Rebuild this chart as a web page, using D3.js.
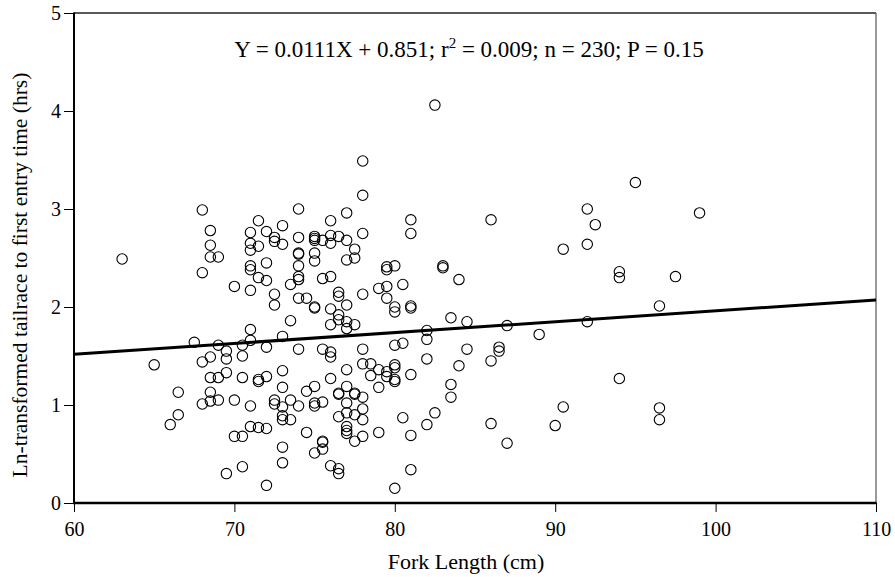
<!DOCTYPE html>
<html>
<head>
<meta charset="utf-8">
<script src="https://cdn.jsdelivr.net/npm/d3@7"></script>
<style>
body { margin:0; background:#fff; }
svg { font-family:"Liberation Serif","Times New Roman",serif; }
.axis path { display:none; }
.axis line { stroke:#000; stroke-width:1; }
</style>
</head>
<body>
<svg id="myGraph" width="895" height="577"></svg>
<script>
// fork length (cm), ln-transformed time (hrs)
var fish = [
 [63.0,2.49],[65.0,1.41],[66.0,0.80],[66.5,1.13],[66.5,0.90],[67.5,1.64],
 [68.0,2.99],[68.0,2.35],[68.0,1.44],[68.0,1.01],[68.5,2.78],[68.5,2.63],
 [68.5,2.51],[69.0,2.51],[68.5,1.49],[68.5,1.28],[68.5,1.13],[68.5,1.04],
 [69.0,1.61],[69.0,1.28],[69.0,1.05],[69.5,1.55],[69.5,1.47],[69.5,1.33],
 [69.5,0.30],[70.0,2.21],[70.0,1.05],[70.0,0.68],[70.5,1.61],[70.5,1.50],
 [70.5,1.28],[70.5,0.68],[70.5,0.37],[71.0,2.76],[71.0,2.65],[71.0,2.58],
 [71.0,2.42],[71.0,2.38],[71.0,2.17],[71.0,1.77],[71.0,1.66],[71.0,0.99],
 [71.0,0.78],[71.5,2.88],[71.5,2.62],[71.5,2.30],[72.0,2.77],[72.0,2.45],
 [72.0,2.27],[72.5,2.71],[72.5,2.67],[72.5,2.13],[72.5,2.02],[73.0,2.83],
 [73.0,2.64],[73.5,2.23],[74.0,3.00],[74.0,2.71],[74.0,2.55],[74.0,2.54],
 [74.0,2.42],[74.0,2.31],[74.0,2.28],[74.0,2.09],[73.5,1.86],[73.0,1.70],
 [72.0,1.59],[74.0,1.57],[71.5,1.26],[71.5,1.24],[72.0,1.29],[73.0,1.35],
 [73.0,1.18],[72.5,1.05],[72.5,1.01],[73.0,0.98],[73.5,1.05],[74.0,0.99],
 [73.0,0.89],[73.0,0.85],[73.5,0.85],[71.5,0.77],[72.0,0.76],[73.0,0.57],
 [73.0,0.41],[72.0,0.18],[74.5,2.09],[75.0,2.72],[75.0,2.70],[75.0,2.68],
 [75.0,2.55],[75.0,2.47],[75.5,2.68],[76.0,2.88],[76.0,2.73],[76.0,2.65],
 [76.5,2.72],[77.0,2.96],[77.0,2.68],[77.5,2.59],[78.0,2.75],[77.0,2.48],
 [77.5,2.50],[75.5,2.29],[76.0,2.31],[76.5,2.15],[76.5,2.11],[78.0,2.13],
 [78.0,3.49],[78.0,3.14],[79.0,2.19],[79.5,2.41],[79.5,2.38],[79.5,2.21],
 [79.5,2.09],[75.0,2.00],[75.0,1.99],[76.0,1.98],[76.5,1.92],[76.5,1.87],
 [77.0,2.02],[77.0,1.85],[77.0,1.78],[77.5,1.82],[76.0,1.82],[74.5,1.14],
 [75.5,1.57],[76.0,1.54],[76.0,1.49],[78.0,1.57],[75.0,1.19],[76.0,1.27],
 [77.0,1.36],[78.0,1.42],[78.5,1.42],[78.5,1.30],[79.0,1.36],[79.5,1.34],
 [79.5,1.29],[79.0,1.18],[76.5,1.12],[76.5,1.11],[77.5,1.12],[77.5,1.11],
 [77.0,1.19],[77.0,1.02],[78.0,1.08],[75.0,1.02],[75.0,0.99],[75.5,1.03],
 [76.5,0.88],[77.0,0.92],[77.5,0.90],[78.0,0.96],[78.0,0.85],[74.5,0.72],
 [77.0,0.78],[77.0,0.74],[77.0,0.71],[77.5,0.63],[78.0,0.68],[79.0,0.72],
 [75.5,0.63],[75.5,0.62],[75.5,0.55],[75.0,0.51],[76.0,0.38],[76.5,0.35],
 [76.5,0.30],[80.0,0.15],[80.0,2.42],[80.5,2.23],[81.0,2.89],[81.0,2.75],
 [82.5,4.06],[83.0,2.42],[83.0,2.40],[84.0,2.28],[86.0,2.89],[80.0,2.00],
 [80.0,1.95],[81.0,2.01],[81.0,1.99],[83.5,1.89],[84.5,1.85],[82.0,1.76],
 [82.0,1.67],[80.0,1.61],[80.5,1.63],[87.0,1.81],[89.0,1.72],[84.5,1.57],
 [86.5,1.59],[86.5,1.55],[86.0,1.45],[82.0,1.47],[84.0,1.40],[80.0,1.41],
 [80.0,1.38],[80.0,1.26],[80.0,1.24],[81.0,1.31],[83.5,1.21],[83.5,1.08],
 [82.5,0.92],[82.0,0.80],[80.5,0.87],[81.0,0.69],[86.0,0.81],[87.0,0.61],
 [81.0,0.34],[90.5,2.59],[92.0,3.00],[92.5,2.84],[92.0,2.64],[95.0,3.27],
 [94.0,2.36],[94.0,2.30],[97.5,2.31],[99.0,2.96],[96.5,2.01],[92.0,1.85],
 [94.0,1.27],[90.5,0.98],[90.0,0.79],[96.5,0.97],[96.5,0.85]
];
var xTicks = [60, 70, 80, 90, 100, 110];
var yTicks = [0, 1, 2, 3, 4, 5];
var slope = 0.0111, intercept = 0.851;

var svg = d3.select("#myGraph");
var plotL = 74, plotR = 876, plotT = 13, plotB = 503;

var xScale = d3.scaleLinear().domain([60, 110]).range([plotL, plotR]);
var yScale = d3.scaleLinear().domain([0, 5]).range([plotB, plotT]);

// frame: top / right thin, left / bottom heavy
svg.append("line").attr("x1", plotL).attr("x2", plotR).attr("y1", plotT).attr("y2", plotT)
  .attr("stroke", "#222").attr("stroke-width", 1.3);
svg.append("line").attr("x1", plotR).attr("x2", plotR).attr("y1", plotT).attr("y2", plotB)
  .attr("stroke", "#555").attr("stroke-width", 1.2);

var yAxis = svg.append("g").attr("class", "axis")
  .attr("transform", "translate(" + plotL + ",0)")
  .call(d3.axisLeft(yScale).tickValues(yTicks).tickSize(10).tickPadding(3).tickFormat(d3.format("d")));
var xAxis = svg.append("g").attr("class", "axis")
  .attr("transform", "translate(0," + plotB + ")")
  .call(d3.axisBottom(xScale).tickValues(xTicks).tickSize(9).tickPadding(10).tickFormat(d3.format("d")));
[yAxis, xAxis].forEach(function(g){
  g.attr("font-family", "Liberation Serif, Times New Roman, serif").attr("font-size", 20);
  g.selectAll("text").attr("fill", "#000");
});

svg.append("line").attr("x1", plotL).attr("x2", plotL).attr("y1", plotT - 0.5).attr("y2", plotB + 1)
  .attr("stroke", "#000").attr("stroke-width", 2);
svg.append("line").attr("x1", plotL - 1).attr("x2", plotR + 0.5).attr("y1", plotB).attr("y2", plotB)
  .attr("stroke", "#000").attr("stroke-width", 2.5);

// points
svg.append("g").selectAll("circle")
  .data(fish)
  .enter().append("circle")
  .attr("cx", function(d){ return xScale(d[0]); })
  .attr("cy", function(d){ return yScale(d[1]); })
  .attr("r", 5.2)
  .attr("fill", "none")
  .attr("stroke", "#000")
  .attr("stroke-width", 1.1);

// regression line
var line = d3.line()
  .x(function(d){ return xScale(d); })
  .y(function(d){ return yScale(intercept + slope * d); });
svg.append("path")
  .attr("d", line(xScale.domain()))
  .attr("stroke", "#000").attr("stroke-width", 3).attr("fill", "none");

// equation
var eq = svg.append("text").attr("x", 469).attr("y", 57)
  .attr("text-anchor", "middle").attr("font-size", 23);
eq.append("tspan").text("Y = 0.0111X + 0.851; r");
eq.append("tspan").attr("dy", -9).attr("font-size", 15).text("2");
eq.append("tspan").attr("dy", 9).text(" = 0.009; n = 230; P = 0.15");

// axis titles
svg.append("text").attr("x", 466).attr("y", 569)
  .attr("text-anchor", "middle").attr("font-size", 22)
  .text("Fork Length (cm)");
svg.append("text")
  .attr("transform", "translate(27,275) rotate(-90)")
  .attr("text-anchor", "middle").attr("font-size", 21.5)
  .text("Ln-transformed tailrace to first entry time (hrs)");
</script>
</body>
</html>
